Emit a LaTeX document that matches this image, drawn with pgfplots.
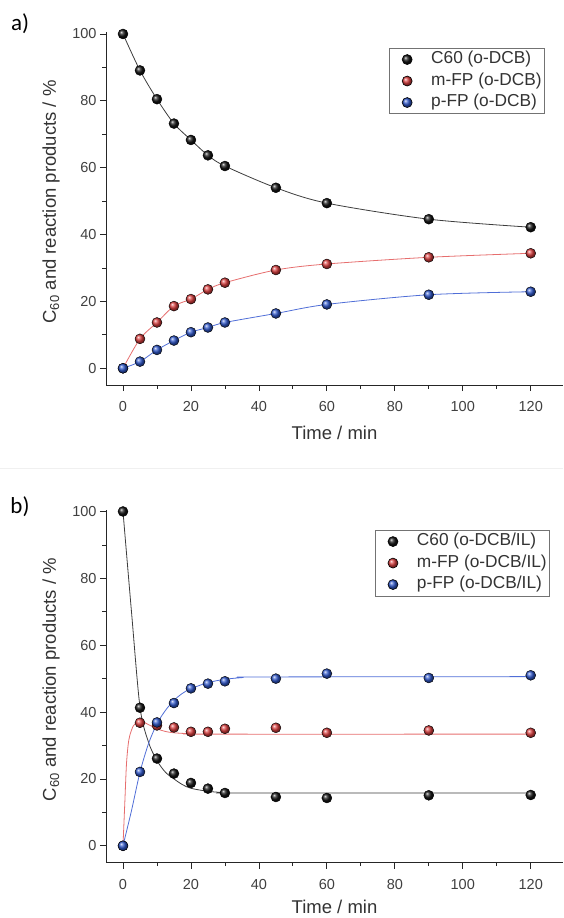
\documentclass[border=0pt]{standalone}
\usepackage{fontspec}
\setmainfont{Liberation Sans}
\newfontfamily\labfont{Carlito}
\usepackage{pgfplots}
\pgfplotsset{compat=1.18}
\definecolor{cblack}{RGB}{20,20,20}
\definecolor{cred}{RGB}{215,60,60}
\definecolor{cblue}{RGB}{45,85,200}
\definecolor{lred}{RGB}{230,110,110}
\definecolor{lblue}{RGB}{80,110,215}
\definecolor{lblack}{RGB}{60,60,60}
\pgfplotsset{
  myaxis/.style={
    scale only axis, width=457pt, height=352.7pt,
    xmin=-5, xmax=129.5, ymin=-5, ymax=100.5,
    axis x line*=bottom, axis y line*=left,
    axis line style={black!85, line width=0.9pt},
    xtick={0,20,...,120}, ytick={0,20,...,100},
    minor x tick num=1, minor y tick num=1,
    tick align=outside, major tick length=6pt, minor tick length=3.5pt,
    tick style={black!85, line width=0.8pt},
    ticklabel style={font=\fontsize{14.5}{16}\selectfont, text=black!75},
    /pgf/number format/assume math mode=true,
    xticklabel shift=7pt,
    clip=false,
    xlabel={Time / min},
    ylabel={C\textsubscript{60} and reaction products / \%},
    label style={font=\fontsize{18.5}{21}\selectfont, text=black!80},
    xlabel style={at={(axis description cs:0.5,0)}, anchor=center, yshift=-48pt},
    ylabel style={at={(axis description cs:-0.12,0.519)}, anchor=center},
    legend cell align=left,
    legend image code/.code={%
      \path[draw=none,fill=none] (-17pt,-6pt) rectangle (22pt,6pt);
      \draw[#1] plot coordinates {(0pt,0pt)};},
    legend style={draw=black!55, line width=0.6pt, fill=white,
      font=\fontsize{17.3}{20}\selectfont, text=black!80,
      inner xsep=1pt, inner ysep=1pt, row sep=1pt,
      nodes={inner xsep=2pt, inner ysep=2pt, text height=12.5pt, text depth=4pt}},
  },
  balls/.style={only marks, mark=ball, mark size=5pt, mark options={ball color=#1}},
}
\begin{document}
\begin{tikzpicture}
\useasboundingbox (0,0) rectangle (563pt,-918pt);
\fill[black!6] (0pt,-467.5pt) rectangle (563pt,-468.5pt);
\node[font=\labfont\fontsize{23}{25}\selectfont] at (20pt,-24pt) {a)};
\node[font=\labfont\fontsize{23}{25}\selectfont] at (20pt,-507pt) {b)};
% ---------------- panel a
\begin{axis}[myaxis, at={(106pt,-385pt)}, anchor=south west,
  legend style={at={(rel axis cs:0.9606,0.9555)}, anchor=north east}]
\addplot[lblack, line width=0.8pt, smooth, forget plot] coordinates {
(0,100) (5,89.1) (10,80.5) (15,73.2) (20,68.3) (25,63.7) (30,60.5) (45,54.0) (60,49.4) (90,44.6) (120,42.2)};
\addplot[lred, line width=0.8pt, smooth, forget plot] coordinates {
(0,0) (5,8.8) (10,13.7) (15,18.6) (20,20.7) (25,23.6) (30,25.6) (45,29.4) (60,31.2) (90,33.2) (120,34.4)};
\addplot[lblue, line width=0.8pt, smooth, forget plot] coordinates {
(0,0) (5,2.0) (10,5.5) (15,8.3) (20,10.8) (25,12.2) (30,13.7) (45,16.4) (60,19.1) (90,22.0) (120,22.9)};
\addplot[balls=cblack] coordinates {
(0,100) (5,89.1) (10,80.5) (15,73.2) (20,68.3) (25,63.7) (30,60.5) (45,54.0) (60,49.4) (90,44.6) (120,42.2)};
\addlegendentry{C60 (o-DCB)}
\addplot[balls=cred] coordinates {
(0,0) (5,8.8) (10,13.7) (15,18.6) (20,20.7) (25,23.6) (30,25.6) (45,29.4) (60,31.2) (90,33.2) (120,34.4)};
\addlegendentry{m-FP (o-DCB)}
\addplot[balls=cblue] coordinates {
(0,0) (5,2.0) (10,5.5) (15,8.3) (20,10.8) (25,12.2) (30,13.7) (45,16.4) (60,19.1) (90,22.0) (120,22.9)};
\addlegendentry{p-FP (o-DCB)}
\end{axis}
% ---------------- panel b
\begin{axis}[myaxis, at={(106pt,-862.5pt)}, anchor=south west,
  xlabel style={yshift=4pt},
  legend style={at={(rel axis cs:0.9716,0.9427)}, anchor=north east}]
\addplot[lblack, line width=0.8pt, smooth, forget plot] coordinates {
(0,100) (2.5,70) (5,41.5) (7.5,31) (10,25.5) (12.5,22) (15,20) (17.5,18.3) (20,17.2) (25,16.3) (30,15.9) (35,15.8) (120,15.8)};
\addplot[lred, line width=0.8pt, smooth, forget plot] coordinates {
(0,0) (0.5,12) (1,24) (1.5,30) (2,33) (3,35.8) (4,36.8) (5,37.1) (6,37) (8,36) (10,35) (12.5,34.2) (15,33.8) (20,33.5) (25,33.4) (120,33.4)};
\addplot[lblue, line width=0.8pt, smooth, forget plot] coordinates {
(0,0) (2.5,10.5) (5,22) (7.5,30.5) (10,36.5) (12.5,40.5) (15,43.5) (17.5,45.6) (20,47) (25,48.8) (30,49.8) (35,50.3) (40,50.5) (120,50.6)};
\addplot[balls=cblack] coordinates {
(0,100) (5,41.3) (10,26.1) (15,21.6) (20,18.8) (25,17.1) (30,15.8) (45,14.6) (60,14.3) (90,15.1) (120,15.2)};
\addlegendentry{C60 (o-DCB/IL)}
\addplot[balls=cred] coordinates {
(0,0) (5,36.8) (10,36.0) (15,35.4) (20,34.1) (25,34.1) (30,35.0) (45,35.3) (60,33.8) (90,34.5) (120,33.8)};
\addlegendentry{m-FP (o-DCB/IL)}
\addplot[balls=cblue] coordinates {
(0,0) (5,22.1) (10,36.9) (15,42.7) (20,47.1) (25,48.5) (30,49.2) (45,50.0) (60,51.5) (90,50.2) (120,51.0)};
\addlegendentry{p-FP (o-DCB/IL)}
\end{axis}
\end{tikzpicture}
\end{document}
